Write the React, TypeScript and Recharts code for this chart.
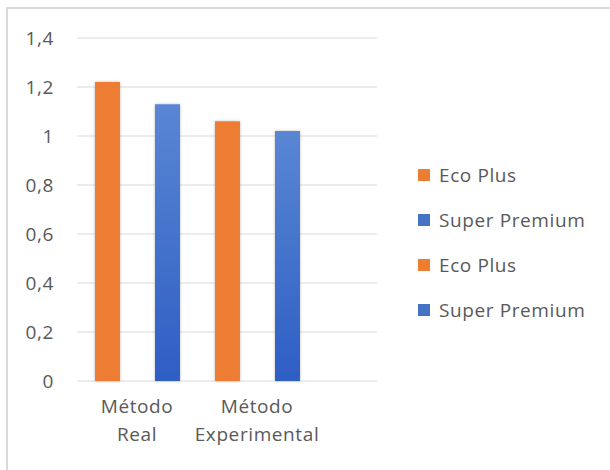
import React from "react";
import { BarChart, Bar, XAxis, YAxis, CartesianGrid, Legend } from "recharts";

const categories = ["Método Real", "Método Experimental"];
const seriesNames = ["Eco Plus", "Super Premium", "Eco Plus", "Super Premium"];
const seriesValues = [1.22, 1.13, 1.06, 1.02];
const seriesColors = ["#ed7d31", "url(#blueGrad)", "#ed7d31", "url(#blueGrad)"];
const legendColors = ["#ed7d31", "#4472c4", "#ed7d31", "#4472c4"];
const yTicks = [0, 0.2, 0.4, 0.6, 0.8, 1, 1.2, 1.4];
const slotCount = 5;

const data = Array.from({ length: slotCount }, (_, i) => {
  const row: Record<string, number | null | string> = { slot: `s${i}` };
  seriesValues.forEach((v, j) => {
    row[`v${j}`] = i === j ? v : null;
  });
  return row;
});

const FONT = "'Open Sans', sans-serif";
const GREY = "#595959";
const FS = 19;
const LS = 0.6;

// each category covers two slots; its label sits on the boundary between them
const LabelTick = (props: any) => {
  const { x, y, payload } = props;
  const idx = payload.index;
  if (idx % 2 !== 0 || idx / 2 >= categories.length) return <g />;
  const text = categories[idx / 2];
  const cx = x + (payload.offset || 0);
  const parts = text.split(" ");
  return (
    <text x={cx} y={y} textAnchor="middle" fill={GREY} fontSize={FS} letterSpacing={LS} fontFamily={FONT}>
      {parts.map((p, i) => (
        <tspan key={i} x={cx} dy={i === 0 ? 24 : 28}>
          {p}
        </tspan>
      ))}
    </text>
  );
};

const LegendContent = () => (
  <div style={{ fontFamily: FONT }}>
    {seriesNames.map((n, i) => (
      <div key={i} style={{ height: 45, display: "flex", alignItems: "center" }}>
        <span
          style={{
            display: "inline-block",
            width: 12,
            height: 12,
            background: legendColors[i],
            marginLeft: 3,
            marginRight: 9,
          }}
        />
        <span style={{ fontSize: FS, letterSpacing: LS, color: GREY }}>{n}</span>
      </div>
    ))}
  </div>
);

export default function App() {
  return (
    <div
      style={{
        position: "absolute",
        left: 6,
        top: 7,
        width: 604,
        height: 463,
        borderTop: "2px solid #d9d9d9",
        borderLeft: "2px solid #d9d9d9",
        background: "#fff",
      }}
    >
      <BarChart
        width={600}
        height={460}
        data={data}
        margin={{ top: 29, right: 31, bottom: 28, left: 9 }}
      >
        <defs>
          <linearGradient id="blueGrad" x1="0" y1="0" x2="0" y2="1">
            <stop offset="0%" stopColor="#5a86d4" />
            <stop offset="100%" stopColor="#2e5ec3" />
          </linearGradient>
          <filter id="shadow" x="-30%" y="-10%" width="160%" height="120%">
            <feDropShadow dx="0" dy="0" stdDeviation="1.5" floodColor="#000" floodOpacity="0.25" />
          </filter>
        </defs>
        <CartesianGrid vertical={false} stroke="#d9d9d9" strokeWidth={1} />
        <XAxis
          dataKey="slot"
          axisLine={false}
          tickLine={false}
          height={60}
          tick={<LabelTick />}
          interval={0}
        />
        <YAxis
          domain={[0, 1.4]}
          ticks={yTicks}
          width={60}
          axisLine={false}
          tickLine={false}
          tickMargin={17}
          tick={{ fill: GREY, fontSize: FS, letterSpacing: LS, fontFamily: FONT }}
          tickFormatter={(v: number) => String(v).replace(".", ",")}
        />
        <Legend
          layout="vertical"
          align="right"
          verticalAlign="middle"
          width={200}
          content={<LegendContent />}
          wrapperStyle={{ left: 407, top: 143, width: 200 }}
        />
        {seriesNames.map((n, j) => (
          <Bar
            key={j}
            dataKey={`v${j}`}
            name={n}
            stackId="a"
            fill={seriesColors[j]}
            barSize={25}
            filter="url(#shadow)"
            isAnimationActive={false}
          />
        ))}
      </BarChart>
    </div>
  );
}
